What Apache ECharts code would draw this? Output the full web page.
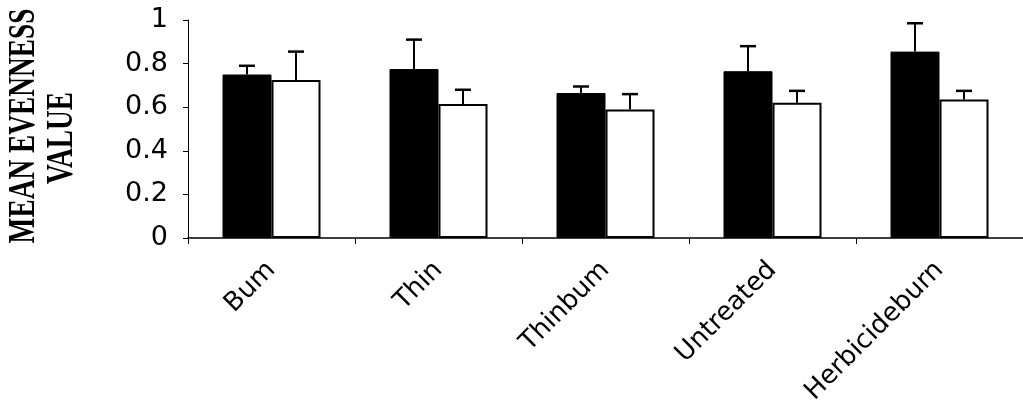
<!DOCTYPE html>
<html>
<head>
<meta charset="utf-8">
<script src="https://cdn.jsdelivr.net/npm/echarts@6/dist/echarts.min.js"></script>
<style>
  html, body { margin: 0; padding: 0; background: #fff; }
  #chart { width: 1023px; height: 420px; }
</style>
</head>
<body>
<div id="chart"></div>
<script>
const categories = ['Bum', 'Thin', 'Thinbum', 'Untreated', 'Herbicideburn']
const blackMeans = [0.75, 0.775, 0.665, 0.765, 0.855]
const blackErrors = [0.04, 0.135, 0.03, 0.115, 0.13]
const whiteMeans = [0.725, 0.615, 0.59, 0.62, 0.635]
const whiteErrors = [0.13, 0.065, 0.07, 0.055, 0.04]
const yTicks = [0, 0.2, 0.4, 0.6, 0.8, 1]

const barWidth = 49

// upward-only error bar, shifted onto its bar inside the pair
const errorBar = (means, errors, shift) => ({
  type: 'custom',
  z: 5,
  data: means.map((m, i) => [i, m, m + errors[i]]),
  renderItem: (params, api) => {
    const base = api.coord([api.value(0), api.value(1)])
    const top = api.coord([api.value(0), api.value(2)])
    const x = base[0] + shift
    const half = 8
    return {
      type: 'group',
      children: [
        { type: 'line', shape: { x1: x, y1: base[1], x2: x, y2: top[1] }, style: { stroke: '#000', lineWidth: 2 } },
        { type: 'line', shape: { x1: x - half, y1: top[1], x2: x + half, y2: top[1] }, style: { stroke: '#000', lineWidth: 2.5 } }
      ]
    }
  }
})

const myChart = echarts.init(document.getElementById('chart'))

const option = {
  backgroundColor: '#fff',
  animation: false,
  grid: { left: 188, right: 0, top: 20, bottom: 182 },
  graphic: [
    {
      type: 'text', x: 24, y: 126, rotation: Math.PI / 2, scaleX: 0.72,
      style: { text: 'MEAN EVENNESS', font: 'bold 38px "Liberation Serif"', fill: '#000', align: 'center', verticalAlign: 'middle' }
    },
    {
      type: 'text', x: 62, y: 138, rotation: Math.PI / 2, scaleX: 0.72,
      style: { text: 'VALUE', font: 'bold 38px "Liberation Serif"', fill: '#000', align: 'center', verticalAlign: 'middle' }
    }
  ],
  xAxis: {
    type: 'category',
    data: categories,
    axisLine: { lineStyle: { color: '#000', width: 1.5 } },
    axisTick: { show: true, length: 6, lineStyle: { color: '#000' } },
    axisLabel: {
      rotate: 45,
      margin: 28,
      color: '#000',
      fontFamily: 'DejaVu Sans',
      fontSize: 26
    }
  },
  yAxis: {
    type: 'value',
    min: 0,
    max: 1,
    interval: 0.2,
    splitLine: { show: false },
    axisLine: { show: true, lineStyle: { color: '#000', width: 1 } },
    axisTick: { show: true, length: 5, lineStyle: { color: '#000' } },
    axisLabel: {
      margin: 20,
      color: '#000',
      fontFamily: 'DejaVu Sans',
      fontSize: 27,
      formatter: (v) => yTicks.includes(+v.toFixed(1)) ? String(+v.toFixed(1)) : ''
    }
  },
  series: [
    {
      type: 'bar',
      data: blackMeans,
      barWidth: barWidth,
      barGap: '0%',
      itemStyle: { color: '#000', borderColor: '#000', borderWidth: 1 }
    },
    {
      type: 'bar',
      data: whiteMeans,
      barWidth: barWidth,
      barGap: '0%',
      itemStyle: { color: '#fff', borderColor: '#000', borderWidth: 2 }
    },
    errorBar(blackMeans, blackErrors, -barWidth / 2),
    errorBar(whiteMeans, whiteErrors, barWidth / 2)
  ]
}

myChart.setOption(option)

window.addEventListener('resize', () => myChart.resize())
</script>
</body>
</html>
